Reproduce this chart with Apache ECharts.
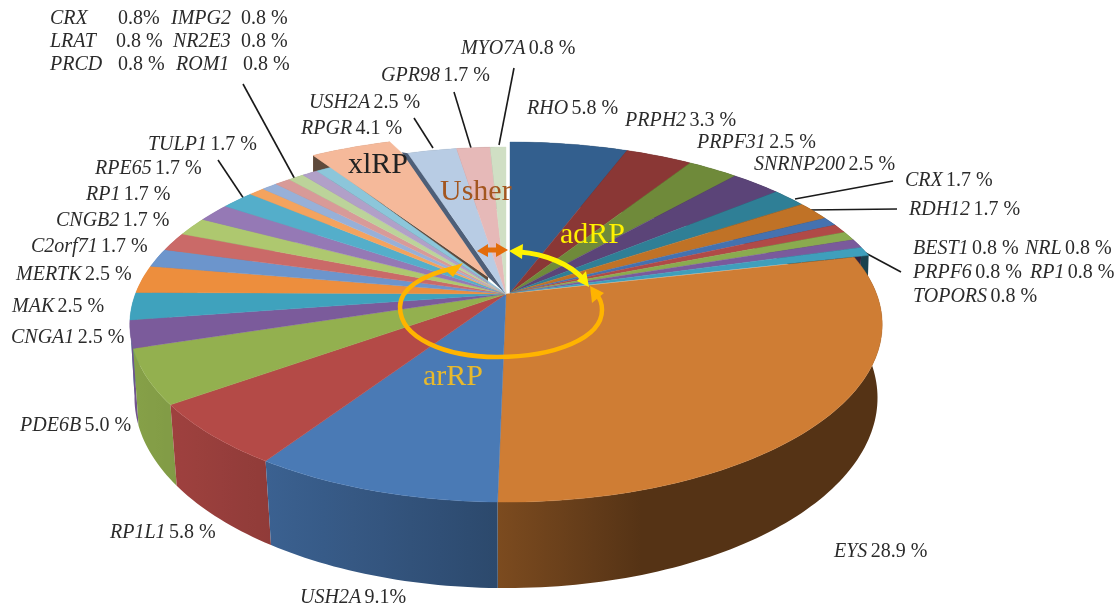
<!DOCTYPE html>
<html>
<head>
<meta charset="utf-8">
<title>RP genes</title>
<script src="https://cdn.jsdelivr.net/npm/echarts@6/dist/echarts.min.js"></script>
<style>
html,body{margin:0;padding:0;background:#fff;}
#main{width:1119px;height:610px;}
</style>
</head>
<body>
<div id="main"></div>
<script>
// clockwise from 12 o'clock
var geneNames = ['RHO','PRPH2','PRPF31','SNRNP200','CRX','RDH12','BEST1','NRL','PRPF6','RP1','TOPORS',
    'EYS','USH2A','RP1L1','PDE6B','CNGA1','MAK','MERTK','C2orf71','CNGB2','RP1','RPE65','TULP1',
    'CRX','IMPG2','LRAT','NR2E3','PRCD','ROM1','RPGR','USH2A','GPR98','MYO7A'];
var geneValues = [5.8,3.3,2.5,2.5,1.7,1.7,0.8,0.8,0.8,0.8,0.8,
    28.9,9.1,5.8,5.0,2.5,2.5,2.5,1.7,1.7,1.7,1.7,1.7,
    0.8,0.8,0.8,0.8,0.8,0.8,4.1,2.5,1.7,0.8];
var geneGroups = ['ad','ad','ad','ad','ad','ad','ad','ad','ad','ad','ad',
    'ar','ar','ar','ar','ar','ar','ar','ar','ar','ar','ar','ar',
    'ar','ar','ar','ar','ar','ar','xl','usher','usher','usher'];
var geneColors = ['#335f8e','#8a3735','#6f8a3a','#5b4478','#2f7f96','#c07226','#4472b0','#b04a47','#8aab4f','#7a5a9c','#3f9fbc',
    '#cf7d34','#4a7ab5','#b44a47','#93b04f','#7b5b9b','#3fa2bd','#ed8e3d','#6c95cc','#ca6a68','#aec86f','#9579b5','#54aeca',
    '#f4a35e','#97b0d8','#d89a98','#bcd39a','#b1a0c8','#8cc6da','#f5b99a','#b8cce4','#e6b9b8','#d0dfc4'];

// text around the pie: name, value text
var labelNames = ['RHO','PRPH2','PRPF31','SNRNP200','CRX','RDH12','BEST1','NRL','PRPF6','RP1','TOPORS',
    'EYS','USH2A','RP1L1','PDE6B','CNGA1','MAK','MERTK','C2orf71','CNGB2','RP1','RPE65','TULP1',
    'RPGR','USH2A','GPR98','MYO7A','CRX','IMPG2','LRAT','NR2E3','PRCD','ROM1'];
var labelValues = ['5.8 %','3.3 %','2.5 %','2.5 %','1.7 %','1.7 %','0.8 %','0.8 %','0.8 %','0.8 %','0.8 %',
    '28.9 %','9.1%','5.8 %','5.0 %','2.5 %','2.5 %','2.5 %','1.7 %','1.7 %','1.7 %','1.7 %','1.7 %',
    '4.1 %','2.5 %','1.7 %','0.8 %','0.8%','0.8 %','0.8 %','0.8 %','0.8 %','0.8 %'];
var labelX = [527,625,697,754,905,909,913,1025,913,1030,913,
    834,300,110,20,11,12,16,31,56,86,95,148,
    301,309,381,461,50,171,50,173,50,176];
var labelY = [109,121,143,165,181,210,249,249,273,273,297,
    552,598,533,426,338,307,275,247,221,195,169,145,
    129,103,76,49,19,19,42,42,65,65];
// x of the value text, only where the reference has it in a column
var labelValueX = {27:118,28:241,29:116,30:241,31:118,32:243};

var leaderLines = [
    [514,68,499,145],[454,92,471,148],[414,118,433,148],
    [243,84,297,183],[218,160,250,208],
    [893,181,795,199],[897,209,808,210],[901,272,832,235]
];

// geometry of the tilted disc
var cx = 506, cy = 294, rx = 370.6, ry = 172.3, persp = 0.172;
var groupShift = {
    ad: {dx: 4, dy: -1, sx: 1.03, sy: 1.027},
    ar: {dx: 0, dy: 0, sx: 1, sy: 1},
    xl: {dx: -18, dy: -17, sx: 1, sy: 0.96},
    usher: {dx: 0, dy: 0, sx: 1, sy: 1}
};

var total = 0;
var startShare = [];
for (var k = 0; k < geneValues.length; k++) {
    startShare.push(total);
    total += geneValues[k];
}

function project(a, g) {
    var u = Math.sin(a), v = -Math.cos(a);
    var s = 1 / (1 - persp * v);
    var sh = groupShift[g];
    return [cx + sh.dx + rx * u * s * sh.sx, cy + sh.dy + ry * v * s * sh.sy, v];
}

function bottomPoint(p) {
    var depth = 74 + 12 * p[2];
    return [cx + (p[0] - cx) * (0.99 - 0.015 * p[2]), p[1] + depth];
}

function rimPoints(i) {
    var a0 = startShare[i] / total * Math.PI * 2;
    var a1 = (startShare[i] + geneValues[i]) / total * Math.PI * 2;
    var n = Math.max(2, Math.ceil((a1 - a0) / 0.02));
    var pts = [];
    for (var j = 0; j <= n; j++) {
        pts.push(project(a0 + (a1 - a0) * j / n, geneGroups[i]));
    }
    return pts;
}

function shade(hex, f) {
    var c = parseInt(hex.slice(1), 16);
    var r = Math.round((c >> 16 & 255) * f), g = Math.round((c >> 8 & 255) * f), b = Math.round((c & 255) * f);
    return 'rgb(' + r + ',' + g + ',' + b + ')';
}

// side gets darker to the right
function sideFactor(x) {
    if (x < 495) return 0.88 - (x - 170) * 0.00085;
    return Math.max(0.41, 0.6 - (x - 495) * 0.0013);
}

function renderSide(params, api) {
    var i = api.value(0);
    var pts = rimPoints(i);
    var poly = [], low = [], x0 = 1e9, x1 = -1e9;
    for (var j = 0; j < pts.length; j++) {
        poly.push([pts[j][0], pts[j][1]]);
        low.unshift(bottomPoint(pts[j]));
        x0 = Math.min(x0, pts[j][0]);
        x1 = Math.max(x1, pts[j][0]);
    }
    var col = geneColors[i];
    var stops = [];
    for (var st = 0; st <= 8; st++) {
        stops.push({offset: st / 8, color: shade(col, sideFactor(x0 + (x1 - x0) * st / 8))});
    }
    var children = [{
        type: 'polygon',
        shape: {points: poly.concat(low)},
        style: {fill: new echarts.graphic.LinearGradient(0, 0, 1, 0, stops), stroke: null}
    }];
    if (geneGroups[i] === 'xl') {
        // cut face of the pulled-out slice
        var sh = groupShift.xl;
        var tip = [cx + sh.dx, cy + sh.dy];
        children.push({
            type: 'polygon',
            shape: {points: [tip, [tip[0], tip[1] + 7], [poly[0][0], poly[0][1] + 16], poly[0]]},
            style: {fill: '#5e4a3c'}
        });
    }
    return {type: 'group', children: children};
}

function renderTop(params, api) {
    var i = api.value(0);
    var g = geneGroups[i];
    var sh = groupShift[g];
    var tip = [cx + sh.dx, cy + sh.dy];
    var pts = rimPoints(i);
    var poly = [tip];
    for (var j = 0; j < pts.length; j++) {
        poly.push([pts[j][0], pts[j][1]]);
    }
    if (g === 'xl') {
        // its right edge bends at the rim in the reference
        var last = poly[poly.length - 1];
        poly.push([last[0] + 15, last[1] + 14]);
    }
    var children = [];
    if (i === 30) {
        // dark edge between xlRP and Usher, fills the gap up to the xlRP tip
        var xl = groupShift.xl;
        children.push({
            type: 'polygon',
            shape: {points: [tip, [cx + xl.dx, cy + xl.dy], [poly[1][0] - 6, poly[1][1] - 1], poly[1]]},
            style: {fill: '#4e5f78'}
        });
    }
    children.push({
        type: 'polygon',
        shape: {points: poly},
        style: {fill: geneColors[i], stroke: geneColors[i], lineWidth: 0.4}
    });
    return {type: 'group', children: children};
}

var arrowOrange = '#ffb400', arrowYellow = '#fff200', arrowRed = '#e36c0a';

function renderArrows() {
    function line(d, col, w) {
        return {type: 'path', shape: {pathData: d}, style: {fill: null, stroke: col, lineWidth: w}};
    }
    function head(pts, col) {
        return {type: 'polygon', shape: {points: pts}, style: {fill: col}};
    }
    return {type: 'group', children: [
        line('M 455 268 C 420 275 400 290 400 307 C 400 338 445 357 497 357 C 555 357 602 338 602 310 C 602 302 599 297 596 294', arrowOrange, 4.5),
        head([[463,263],[444,269],[453,277]], arrowOrange),
        head([[590,286],[592,303],[604,293]], arrowOrange),
        line('M 520 252 C 545 254 570 264 583 279', arrowYellow, 5),
        head([[509,251],[523,244],[522,259]], arrowYellow),
        head([[589,287],[586,271],[577,281]], arrowYellow),
        line('M 488 250 L 497 250', arrowRed, 5),
        head([[477,251],[488,244],[488,257]], arrowRed),
        head([[508,250],[496,243],[496,257]], arrowRed)
    ]};
}

var textFont = '"Liberation Serif", "Times New Roman", serif';
var textCol = '#2b2b2b';
var elements = [];

for (var t = 0; t < labelNames.length; t++) {
    if (labelValueX[t] !== undefined) {
        elements.push({type: 'text', x: labelX[t], y: labelY[t], style: {text: labelNames[t], font: 'italic 20px ' + textFont, fill: textCol, verticalAlign: 'middle'}});
        elements.push({type: 'text', x: labelValueX[t], y: labelY[t], style: {text: labelValues[t], font: '20px ' + textFont, fill: textCol, verticalAlign: 'middle'}});
    } else {
        elements.push({
            type: 'text', x: labelX[t], y: labelY[t],
            style: {
                text: '{g|' + labelNames[t] + '} {v|' + labelValues[t] + '}',
                verticalAlign: 'middle',
                fill: textCol,
                rich: {
                    g: {font: 'italic 20px ' + textFont, fill: textCol},
                    v: {font: '20px ' + textFont, fill: textCol}
                }
            }
        });
    }
}
for (var m = 0; m < leaderLines.length; m++) {
    var q = leaderLines[m];
    elements.push({type: 'line', shape: {x1: q[0], y1: q[1], x2: q[2], y2: q[3]}, style: {stroke: '#1a1a1a', lineWidth: 1.6}});
}
var groupTitles = [
    ['xlRP', 348, 165, '#222222'],
    ['Usher', 440, 192, '#a3561f'],
    ['adRP', 560, 235, '#fff200'],
    ['arRP', 423, 377, '#e8b92c']
];
for (var n = 0; n < groupTitles.length; n++) {
    elements.push({
        type: 'text', x: groupTitles[n][1], y: groupTitles[n][2], z: 20,
        style: {text: groupTitles[n][0], font: '30px ' + textFont, fill: groupTitles[n][3], verticalAlign: 'middle'}
    });
}

var sliceIndex = [];
for (var d = 0; d < geneValues.length; d++) {
    sliceIndex.push([d, geneValues[d]]);
}

// sides are painted back to front
function midDepth(item) {
    var mid = (startShare[item[0]] + geneValues[item[0]] / 2) / total * Math.PI * 2;
    return -Math.cos(mid);
}
var sideIndex = sliceIndex.slice().sort(function (a, b) {
    return midDepth(a) - midDepth(b);
});

var chart = echarts.init(document.getElementById('main'));
chart.setOption({
    backgroundColor: '#ffffff',
    animation: false,
    series: [
        {type: 'custom', coordinateSystem: 'none', renderItem: renderSide, data: sideIndex, z: 1, silent: true},
        {type: 'custom', coordinateSystem: 'none', renderItem: renderTop, data: sliceIndex, z: 2, silent: true},
        {type: 'custom', coordinateSystem: 'none', renderItem: renderArrows, data: [[0]], z: 3, silent: true}
    ],
    graphic: {elements: elements}
});
</script>
</body>
</html>
